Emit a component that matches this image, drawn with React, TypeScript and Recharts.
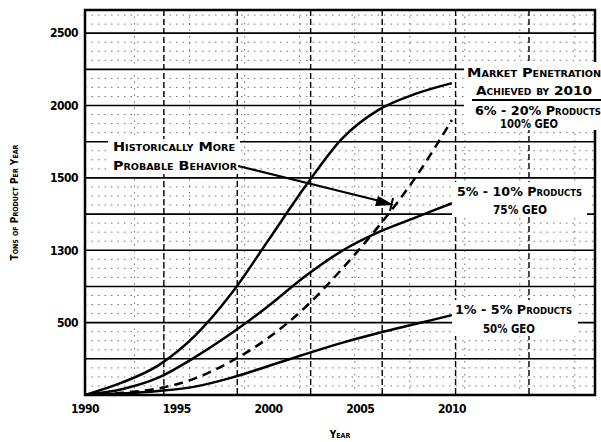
import { LineChart, Line, XAxis, YAxis, CartesianGrid, ReferenceArea, Label } from 'recharts';

// values (tons of product per year)
const years = [1990, 1992, 1994, 1996, 1998, 2000, 2002, 2004, 2006, 2008, 2010];
const highGeo = [0, 85, 205, 410, 704, 1070, 1440, 1770, 1970, 2080, 2155];
const midGeo = [0, 40, 120, 262, 428, 615, 820, 995, 1125, 1225, 1325];
const historical = [0, 15, 45, 115, 235, 395, 605, 870, 1165, 1500, 1900];
const lowGeo = [0, 10, 28, 58, 120, 200, 282, 360, 428, 490, 552];

const yearTicks = [1990, 1995, 2000, 2005, 2010];
const valueTicks = [500, 1000, 1500, 2000, 2500];
const valueTickLabels = ['500', '1300', '1500', '2000', '2500'];

const heavyRows = [250, 500, 750, 1000, 1250, 1500, 1750, 2000, 2250, 2500];
const dottedRows = Array.from({ length: 42 }, (_, i) => 62.5 * (i + 1));
const paperCols = [1994.3, 1998.3, 2002.3, 2006.2, 2010.2, 2014.2];
const dottedCols = Array.from({ length: 27 }, (_, i) => 1990.7 + i);

const data = years.map((year, i) => ({
  year,
  high: highGeo[i],
  mid: midGeo[i],
  hist: historical[i],
  low: lowGeo[i],
}));

const FONT = '"DejaVu Sans Condensed", "DejaVu Sans", sans-serif';

const labelStyle = {
  fontFamily: FONT,
  fontWeight: 700,
  fontVariant: 'small-caps',
  fill: '#000',
} as const;

function Notes() {
  const t = (x: number, y: number, w: number, s: string, size = 12) => (
    <text x={x} y={y} textLength={w} lengthAdjust="spacingAndGlyphs" fontSize={size} style={labelStyle}>
      {s}
    </text>
  );
  return (
    <svg width={601} height={442} style={{ position: 'absolute', left: 0, top: 0, pointerEvents: 'none' }}>
      {/* market penetration box */}
      <rect x={464} y={62} width={137} height={68} fill="#fff" />
      {t(467, 77, 134, 'Market Penetration')}
      {t(476, 95, 116, 'Achieved by 2010')}
      <line x1={472} y1={100} x2={601} y2={100} stroke="#000" strokeWidth={2} />
      {t(475, 115, 126, '6% - 20% Products')}
      {t(500, 128, 58, '100% GEO')}

      {/* historical note */}
      <rect x={108} y={139} width={132} height={35} fill="#fff" />
      {t(113, 151, 122, 'Historically More')}
      {t(113, 170, 124, 'Probable Behavior')}
      <line x1={238} y1={166} x2={388} y2={203} stroke="#000" strokeWidth={2.2} />
      <polygon points="394,205 378,196 375,206" fill="#000" />
      <line x1={393} y1={198} x2={390} y2={211} stroke="#000" strokeWidth={2} />

      {/* mid curve label */}
      <rect x={452} y={182} width={135} height={34} fill="#fff" />
      {t(457, 196, 125, '5% - 10% Products')}
      {t(493, 214, 54, '75% GEO')}

      {/* low curve label */}
      <rect x={452} y={300} width={126} height={36} fill="#fff" />
      {t(455, 314, 117, '1% - 5% Products')}
      {t(483, 333, 52, '50% GEO')}
    </svg>
  );
}

export default function App() {
  return (
    <div style={{ position: 'absolute', left: 0, top: 0, width: 601, height: 442, background: '#fff' }}>
      <LineChart width={601} height={442} data={data} margin={{ top: 10, right: 6, left: 0, bottom: 0 }}>
        <CartesianGrid
          horizontalValues={dottedRows}
          verticalValues={dottedCols}
          stroke="#000"
          strokeOpacity={0.55}
          strokeDasharray="1.5 5"
        />
        <CartesianGrid horizontalValues={heavyRows} vertical={false} stroke="#000" strokeWidth={1.6} />
        <CartesianGrid verticalValues={paperCols} horizontal={false} stroke="#000" strokeWidth={1.4} strokeDasharray="6 3" />
        <XAxis
          dataKey="year"
          type="number"
          domain={[1990, 2017.8]}
          ticks={yearTicks}
          height={47}
          tickSize={0}
          tickMargin={9}
          axisLine={false}
          allowDataOverflow
          tick={{ fontFamily: FONT, fontWeight: 700, fontSize: 12, fill: '#000', letterSpacing: -0.5 }}
        >
          <Label value="Year" position="insideBottom" offset={4} style={{ ...labelStyle, fontSize: 10 }} />
        </XAxis>
        <YAxis
          type="number"
          domain={[0, 2660]}
          ticks={valueTicks}
          width={85}
          tickSize={0}
          tickMargin={7}
          axisLine={false}
          allowDataOverflow
          tickFormatter={(v: number) => valueTickLabels[valueTicks.indexOf(v)]}
          tick={{ fontFamily: FONT, fontWeight: 700, fontSize: 12, fill: '#000', letterSpacing: -0.5 }}
        >
          <Label
            value="Tons of Product Per Year"
            angle={-90}
            position="insideLeft"
            offset={14}
            style={{ ...labelStyle, fontSize: 10, textAnchor: 'middle' }}
          />
        </YAxis>
        <ReferenceArea x1={1990} x2={2017.8} y1={0} y2={2660} fill="none" stroke="#000" strokeWidth={2.5} />
        <Line dataKey="high" type="monotone" stroke="#000" strokeWidth={2.5} dot={false} isAnimationActive={false} />
        <Line dataKey="mid" type="monotone" stroke="#000" strokeWidth={2.5} dot={false} isAnimationActive={false} />
        <Line
          dataKey="hist"
          type="monotone"
          stroke="#000"
          strokeWidth={2.5}
          strokeDasharray="9 6"
          dot={false}
          isAnimationActive={false}
        />
        <Line dataKey="low" type="monotone" stroke="#000" strokeWidth={2.5} dot={false} isAnimationActive={false} />
      </LineChart>
      <Notes />
    </div>
  );
}
